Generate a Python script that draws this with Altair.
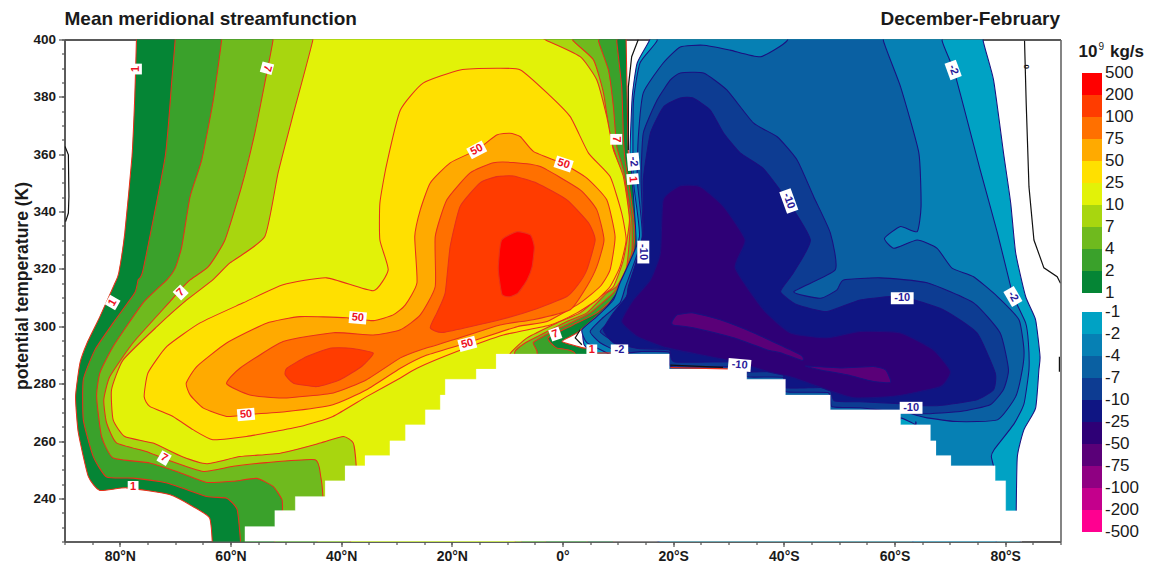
import altair as alt
import pandas as pd

# contour regions: (latitude, negative = north; potential temperature K)
P1 = [(-77,410),(-77,400),(-77.3,380.1),(-77.8,359.2),(-79.1,332.6),(-80.2,318.6),(-80.9,315),(-83.6,303.4),(-85.9,294.3),(-87.2,287.3),(-88,275.5),(-87.5,262.9),(-85.7,247.7),(-83.6,242.8),(-78.8,243.7),(-70.9,241.3),(-66.8,237.2),(-63.8,233.3),(-63.3,225),(-63.3,215),(6.8,215),(6.8,270),(6.8,290.9),(3.7,292.5),(-0.1,294.7),(2.6,297.7),(6.8,304.7),(12.2,316.2),(13.7,331.2),(12.8,351.1),(11.9,360.4),(11.7,378.9),(11.5,400),(11.5,410)]
P2 = [(-70,410),(-70,400),(-70.6,385.9),(-71.8,359.2),(-75.8,319.7),(-76.7,316.2),(-77.3,311.7),(-81.2,301.2),(-84.5,291.8),(-86.6,281.4),(-86.6,267.4),(-84.8,254.6),(-82.4,247.5),(-77.6,247.1),(-71.5,245.4),(-64.3,240.7),(-60.7,240.1),(-58.8,236.1),(-58.2,225),(-58.2,215),(2.3,215),(2.3,270),(2.3,290.4),(-1.1,292.5),(-2.6,296),(1.9,300.5),(6.2,304.7),(10.4,311.7),(11.9,313.8),(13.1,332.6),(11.9,351),(11.3,358),(11,366.1),(10.7,383.5),(9.8,399.6),(9.8,410)]
P3 = [(-61.6,410),(-61.6,400),(-63.1,378.9),(-65.2,358),(-67.3,345.2),(-68.8,327.8),(-70,320.3),(-71.5,316.2),(-75.8,308.2),(-81.2,293),(-83.6,283.8),(-84.2,275.5),(-83.3,261.6),(-81.2,254.1),(-74.6,252.4),(-69.1,249),(-64.3,245.6),(-59.5,246),(-55.3,247),(-52.3,244.2),(-50.7,239.6),(-50.6,235),(-50.6,215),(-4.6,215),(-4.6,284.8),(-4.6,291.2),(-5.3,294.3),(-3.5,296.5),(1.4,301.2),(5,304.7),(9.2,311.7),(10.4,315.2),(12.5,325.6),(12.5,337.1),(11,354.5),(9.8,362.7),(9.2,376.6),(8.3,389.4),(6.5,399.6),(6.5,410)]
P4 = [(-52.3,410),(-52.3,400),(-53.8,384.8),(-55.6,367.4),(-58,348.7),(-61,330.1),(-64,320.8),(-67.3,316.2),(-69.1,312.7),(-70.9,308.7),(-77.6,294.3),(-81.8,282.5),(-82.9,274.4),(-82.4,266.4),(-80.6,259.4),(-75.2,256.4),(-71.5,253.5),(-64.9,249.4),(-59.5,251.2),(-53.5,252.5),(-44.7,253.5),(-43.7,247.7),(-43.3,240.7),(-43.3,234),(-43.3,215),(-8.6,215),(-8.6,284.8),(-8.6,291.2),(-6.7,294.3),(-4,297),(0.8,301.7),(4.4,304.7),(8,311.7),(9.8,313.9),(11.6,320.8),(12.2,334.8),(11.3,348.7),(9.5,360.4),(8.6,366.1),(7.4,381.4),(5.6,392.9),(1.9,399.6),(-2,410)]
P5 = [(-45.1,410),(-45.1,400),(-48.6,374.4),(-51.4,353.5),(-53.8,331.3),(-60.1,322.1),(-63.2,316.2),(-67.9,309.2),(-73.3,299.9),(-79.4,288.3),(-81.5,277.9),(-81.2,267.4),(-79.1,261.6),(-74,259.3),(-68.8,254.6),(-64.3,252.1),(-58.3,254.6),(-51,255.8),(-43.8,259.3),(-39.6,261.6),(-37.8,259.3),(-37.3,251.8),(-37.3,243),(-37.3,215),(-9.5,215),(-9.5,284.8),(-9.5,290.4),(-6.4,296),(-1,301.2),(3.2,304.7),(6.8,310.4),(9.2,313.9),(11,323.2),(12.1,337.1),(11,352.2),(9.2,361.5),(8,373.1),(6.2,385.9),(3.2,394),(-2.8,399.6),(-10,405)]
P6 = [(-11.9,390),(-7.6,389.4),(-2.8,381.4),(1.4,373.1),(4.7,360.4),(8.6,352.2),(10.7,339.5),(11.5,330.1),(10.4,320.8),(8.6,313.9),(6.2,309.2),(2.6,304.7),(-2.2,300.5),(-10.7,297),(-19.1,291.2),(-26.3,285.4),(-29.3,282),(-35.4,275.5),(-41.5,268.6),(-47.4,265.1),(-57.1,261.6),(-63.2,260.5),(-66.8,264),(-70.4,268.6),(-74.6,272.1),(-75.6,275.5),(-74.9,283.8),(-71.5,293),(-65.5,301.2),(-57.7,308.2),(-50.5,314.5),(-42.6,316.9),(-34.2,312.4),(-31.5,319.7),(-33,330.1),(-33,343),(-31.8,356.3),(-29.3,375.4),(-25.2,384.8),(-18.5,389.4)]
P7 = [(-9.5,367.3),(-7.6,366.1),(-5.2,360.9),(0.2,356.6),(4.4,351.7),(8,344.1),(9.5,331.3),(8.6,319.7),(6.8,313.9),(3.2,308.2),(-2.8,301.7),(-8.2,299.9),(-17.3,294.2),(-24.5,290),(-29.3,285.4),(-35.4,277.9),(-41.5,272.7),(-49.8,270.3),(-57.1,269.2),(-60.7,268.6),(-64.9,271.5),(-67.3,276.1),(-68,280.2),(-66.1,286),(-60.7,294.2),(-53.5,301.1),(-47.4,303.4),(-39,303),(-34.2,302),(-30.6,304),(-28.4,307.5),(-26.3,315.2),(-26.7,331.3),(-25.7,340.6),(-23.9,350),(-20.3,357),(-15.5,361.5),(-11.9,366.7)]
P8 = [(-8.9,357.1),(-4,355.7),(3.2,347.6),(6.2,340.6),(7.5,330.1),(6.2,320.8),(4.4,313.9),(1.4,305.8),(-5.3,302.3),(-11.3,300.5),(-19.7,295.3),(-25.7,291.8),(-29.3,289),(-35.4,281.4),(-41.4,276.8),(-50.5,275),(-56.5,276.1),(-60.7,280),(-58.3,285.4),(-50.5,294.7),(-41.4,297.8),(-34.2,297),(-29.3,298.8),(-25.7,304),(-23,313.9),(-23,331.3),(-20.9,344.1),(-16.7,353.5),(-12.5,357)]
P9A = [(-8.9,352.4),(-4.6,349.9),(0.8,344.1),(4.7,336.1),(5.9,330.1),(4.4,319.7),(2.8,314.5),(0.8,310.4),(-5.2,305.8),(-11.3,302.3),(-21.5,297.9),(-23.9,299.5),(-22.7,304.7),(-21.2,311.7),(-20.3,327.8),(-18.5,341.8),(-14.9,350),(-11.9,352.2)]
P9B = [(-49.8,285.4),(-46.2,289.5),(-42,292.4),(-38.4,292.4),(-34.2,290.7),(-36.3,286),(-40.2,281.4),(-44.4,279),(-48.6,280.2),(-50.1,283.1)]
P10 = [(-8.2,333),(-5.8,331.9),(-5.1,327.7),(-5.5,320.7),(-6.4,316.2),(-8,311.7),(-9.5,310.3),(-10.9,311),(-11.4,316.2),(-11.6,320.7),(-11,330.1)]

N1 = [(76,410),(76,399.8),(77.9,385.9),(79.7,360.5),(81,343),(81.9,325.6),(83.7,310.4),(85.5,302.3),(86.3,289.5),(86.1,284.9),(85.5,271.5),(83.4,264),(82.2,254.6),(82,235.7),(82,228),(82,215),(30,215),(5.9,240),(5.9,286.6),(5,291.1),(3.9,293.6),(3.7,297),(5,300.5),(8.3,307.5),(11.3,316.2),(13.3,328.4),(12.6,351),(12.2,360.5),(12.6,380),(13.5,391.8),(15.9,400.5),(16.5,410)]
N2 = [(68.6,410),(68.6,399.6),(70.7,389.4),(72.5,376.6),(75.5,354.5),(78.6,332.6),(80.7,316.2),(81.5,310.3),(83.7,301.2),(84.2,294.3),(84.3,284.9),(83.4,273),(81.6,266),(78,257),(77.5,254.6),(77.9,251),(77.9,243),(77.9,215),(63.8,215),(63.8,264.6),(63.8,265.7),(61.1,268.1),(60.1,265.7),(40,230),(10.4,240),(10.4,284.8),(8.3,290.4),(4.4,294.3),(3.5,298.8),(6.2,303.4),(9.2,309.2),(10.4,315.2),(13.9,331.2),(12.8,351),(12.8,377.9),(14,391.8),(17.1,399.6),(18,410)]
N3 = [(58,410),(58,399.6),(61.1,383.5),(64.4,360.5),(64.8,341.8),(64.1,333),(61.1,334.8),(58.2,330.7),(59.9,327.2),(64.1,330.1),(67.7,327.2),(70.4,320.3),(74.3,317.3),(78.6,310.4),(82.5,302.3),(83.4,291.8),(83.1,284.9),(81.9,275.5),(78.6,267.4),(71.3,266.8),(65.9,268.1),(64.3,268.8),(62,270.2),(60.3,270.2),(60,262),(40,240),(10.7,262),(10.7,284.8),(10.7,290.1),(6.8,294.3),(5,298.2),(7.3,303),(10.4,308.2),(11.4,313.9),(14.4,331.2),(13.5,351),(13.7,366),(14.6,381.4),(18.2,391.8),(21.3,397.4),(25.5,398),(30.3,396.3),(35.8,394),(40.6,399.6),(42,410)]
N4 = [(21.3,388.3),(25.5,388.3),(29.7,382.4),(34.5,370.9),(38.8,366.1),(42.4,358),(45.4,345.2),(48.4,332.6),(49.3,319.7),(41.8,312.1),(46.6,309.8),(49.6,312.7),(50.8,316.2),(57.5,316.9),(65.9,315.2),(74.3,308.2),(79.1,297.7),(80.6,284.9),(79.7,278),(77.3,272.7),(71.9,270.3),(65.2,269.5),(61.1,269.9),(53.8,271.6),(48.7,272),(48,276.9),(40.4,277.2),(39.9,282.2),(33.4,282.4),(33,285.9),(19.8,285.9),(19.3,291),(14,291.2),(11.3,290.7),(9.5,294.3),(6.8,298.2),(9.2,303),(11.3,309.2),(12.2,313.9),(14.5,331.2),(14.2,351),(14.6,367.4),(17.1,378.9),(19.5,385.9)]
N5 = [(21.3,379.6),(23.6,379.6),(26.7,375.4),(29.1,367.4),(32.1,360.5),(36.3,355),(40.6,344.1),(44.8,330.1),(41.7,318.6),(39.4,312.1),(42.4,307.5),(47.8,305.2),(53.8,309.2),(61.1,310.4),(68.8,305.8),(74.9,297.7),(78.2,283.8),(77.9,277.9),(74.9,274.4),(69.5,272.7),(65.2,272.3),(61.1,273),(53.8,273.7),(49.1,274.1),(48,278.6),(40.4,278.6),(39.7,284.1),(33.4,284.2),(33,287.6),(20.3,287.6),(19.3,291.8),(14,292.2),(12.2,292.9),(9.2,294.3),(7.4,298.8),(9.2,304.7),(11.6,310.4),(11.9,313.9),(14.6,331.3),(14.6,351),(15.9,367.4),(18.3,376.6)]
N6 = [(21.3,349),(24.9,348.7),(29.1,341.7),(33,330.1),(31.2,320.4),(36.3,305.8),(41.2,297.7),(47.8,296),(53.8,298.2),(61.1,297.7),(67,291.8),(70.1,284.3),(68.3,279),(59.9,275.6),(52.6,275.1),(47.8,277.9),(41.8,282.1),(37,284.3),(30.9,287.8),(24.9,290.1),(18.9,292.5),(13.5,296.5),(10.7,301.7),(12.8,309.2),(15.9,316.2),(17.7,325.6),(18.2,344.1)]
N7A = [(19.8,301.7),(20.7,304),(23.6,304.7),(28.5,302.3),(34.5,297.8),(43,290.1),(43.3,288.1),(39.4,290.8),(37,291.8),(30.9,296),(23.6,299.5),(20,300.5)]
N7B = [(43.9,286.2),(50.2,285.5),(56.2,286),(58.4,284.8),(59.3,280.5),(56.2,280.8),(51.4,283.1),(46.6,284.8)]

GROUND = [(-57.4,225),(-57.4,230.2),(-52,230.2),(-52,235.8),(-48.3,235.8),(-48.3,240.7),(-42.9,240.7),(-42.9,246.2),(-39.3,246.2),(-39.3,251.4),(-35.7,251.4),(-35.7,255),(-31.2,255),(-31.2,260.1),(-28.4,260.1),(-28.4,265.7),(-24.8,265.7),(-24.8,270.9),(-22.1,270.9),(-22.1,276.1),(-21.2,276.1),(-21.2,281.6),(-15.6,281.6),(-15.6,285.1),(-12,285.1),(-12,290.4),(19.3,290.4),(19.3,285.1),(33.3,285.1),(33.3,281.6),(40.3,281.6),(40.3,276.1),(48.4,276.1),(48.4,270.9),(61.1,270.9),(61.1,265.7),(66.5,265.7),(66.5,260.1),(67.5,260.1),(67.5,255),(70.2,255),(70.2,251.4),(78.2,251.4),(78.2,246.2),(80.1,246.2),(80.1,235.7),(83,235.7),(83,225)]

ZERO_LINES = [
    [(-89.9,362.7),(-89.3,359.8),(-89.2,345.3),(-89.3,339.5),(-89.8,336.5)],
    [(83.5,399.6),(83.8,377.9),(84.3,348.7),(85.2,330.1),(87,320.4),(89.4,317.3),(90,315)],
    [(13.7,400),(12.5,394),(11.9,383.5),(11.9,361.5)],
    [(3.2,298.8),(2.3,296),(3.5,293.6)],
    [(89.8,289.4),(89.8,284.2)],
    [(19.5,286.5),(29,285.7)],
]
RED_LINES = [[(19.5,285.6),(30,285.2)], [(5,290.7),(12,290.8)]]

POS_COLORS = ["#058535","#3aa12b","#6fba1e","#a8d60f","#e2f208","#ffe000","#ffaa00","#ff7000","#ff3c00","#ff3c00","#ff0000"]
POS_REGIONS = [P1,P2,P3,P4,P5,P6,P7,P8,P9A,P9B,P10]
NEG_COLORS = ["#00a2c4","#0680b4","#0a60a2","#0d3c92","#0f1583","#2e0076","#5a0078","#5a0078"]
NEG_REGIONS = [N1,N2,N3,N4,N5,N6,N7A,N7B]

LABEL_TEXT = ["1","7","1","7","50","50","7","1","50","50","7","-2","1","-10","50","7","1","-2","-10","-2","-10","-10","-2","-10","0"]
LABEL_LAT = [-77.1,-53.4,-81.3,-69,-37,-57.2,-72,-77.6,-15.5,0.2,9.7,12.8,12.7,14.6,-17.2,-1.3,5.3,10.3,32,70.6,40.9,61.4,81.4,63,83.7]
LABEL_THETA = [389.7,390,308.3,311.8,303,269.3,254.1,244,361.5,356.6,365.2,357.4,351.3,325.9,293.9,297.3,291.6,291.6,286.5,389.4,343.7,309.8,310.4,271.6,390.5]
LABEL_ANGLE = [270,105,300,315,5,355,30,0,332,18,90,85,85,90,345,340,0,0,5,70,70,0,60,0,90]

LEGEND_POS = ["500","200","100","75","50","25","10","7","4","2","1"]
LEGEND_NEG = ["-1","-2","-4","-7","-10","-25","-50","-75","-100","-200","-500"]
LEGEND_POS_COLORS = ["#ff0000","#ff3c00","#ff7000","#ffaa00","#ffe000","#e2f208","#a8d60f","#6fba1e","#3aa12b","#058535"]
LEGEND_NEG_COLORS = ["#00a2c4","#0680b4","#0a60a2","#0d3c92","#0f1583","#2e0076","#5a0078","#8f0082","#c4008c","#ff0090"]

FONT = "Liberation Sans"
W, H = 996, 502
XS = alt.Scale(domain=[-90, 90], nice=False, zero=False)
YS = alt.Scale(domain=[225, 400], nice=False, zero=False)
NOAX_X = alt.X("lat:Q", scale=XS, axis=None)
NOAX_Y = alt.Y("theta:Q", scale=YS, axis=None)


def frame(points):
    return pd.DataFrame({"lat": [p[0] for p in points], "theta": [p[1] for p in points], "seq": range(len(points))})


def region(points, color, stroke):
    return alt.Chart(frame(points)).mark_line(
        fill=color, filled=False, stroke=stroke, strokeWidth=1.05,
        interpolate="cardinal-closed", tension=0.5, clip=True,
    ).encode(x=NOAX_X, y=NOAX_Y, order="seq:Q")


def contour(points, color, width):
    return alt.Chart(frame(points)).mark_line(
        stroke=color, strokeWidth=width, clip=True, interpolate="linear",
    ).encode(x=NOAX_X, y=NOAX_Y, order="seq:Q")


layers = []
for pts, col in zip(POS_REGIONS, POS_COLORS):
    layers.append(region(pts, col, "#e8301a"))
for pts, col in zip(NEG_REGIONS, NEG_COLORS):
    layers.append(region(pts, col, "#1b1080"))

layers.append(alt.Chart(frame(GROUND)).mark_line(
    fill="white", filled=False, stroke="white", strokeWidth=0.2, interpolate="linear-closed", clip=True,
).encode(x=NOAX_X, y=NOAX_Y, order="seq:Q"))

for pts in RED_LINES:
    layers.append(contour(pts, "#e8301a", 1.2))
for pts in ZERO_LINES:
    layers.append(contour(pts, "#111111", 1.2))

# contour labels
half = {1: 0.9, 2: 1.45, 3: 1.9}
lab = pd.DataFrame({"lat": LABEL_LAT, "theta": LABEL_THETA, "txt": LABEL_TEXT, "ang": LABEL_ANGLE})
lab["shape"] = [f"M{-half[len(t)]},-1H{half[len(t)]}V1H{-half[len(t)]}Z" for t in LABEL_TEXT]
lab["col"] = ["#111111" if t == "0" else ("#2a1a9a" if t.startswith("-") else "#ee1122") for t in LABEL_TEXT]
lab["fs"] = [8 if t == "0" else 11 for t in LABEL_TEXT]
layers.append(alt.Chart(lab[lab.txt != "0"]).mark_point(filled=True, fill="white", stroke=None, opacity=1, size=144).encode(
    x=NOAX_X, y=NOAX_Y,
    shape=alt.Shape("shape:N", scale=None), angle=alt.Angle("ang:Q", scale=None)))
layers.append(alt.Chart(lab).mark_text(font=FONT, fontWeight="bold", baseline="middle", align="center").encode(
    x=NOAX_X, y=NOAX_Y, text="txt:N",
    angle=alt.Angle("ang:Q", scale=None), color=alt.Color("col:N", scale=None),
    size=alt.Size("fs:Q", scale=None)))

# axes
dummy = pd.DataFrame({"lat": [0], "theta": [300]})
AX = dict(domainColor="#555555", tickColor="#555555", domainWidth=1.6, tickWidth=1.2, grid=False,
          labelFont=FONT, labelColor="#1a1a1a", titleFont=FONT, titleColor="#1a1a1a")
minor = alt.Chart(dummy).mark_point(opacity=0).encode(
    x=alt.X("lat:Q", scale=XS, axis=alt.Axis(orient="bottom", values=list(range(-90, 91, 5)), labels=False, title=None, tickSize=3, **AX)),
    y=alt.Y("theta:Q", scale=YS, axis=alt.Axis(orient="left", values=list(range(225, 401, 5)), labels=False, title=None, tickSize=3, **AX)))
major = alt.Chart(dummy).mark_point(opacity=0).encode(
    x=alt.X("lat:Q", scale=XS, axis=alt.Axis(
        orient="bottom", values=list(range(-80, 81, 20)), title=None, tickSize=5, labelFontSize=14, labelFontWeight="bold", labelPadding=3,
        labelExpr="datum.value < 0 ? abs(datum.value) + '°N' : datum.value > 0 ? datum.value + '°S' : '0°'", **AX)),
    y=alt.Y("theta:Q", scale=YS, axis=alt.Axis(
        orient="left", values=list(range(240, 401, 20)), title="potential temperature (K)", tickSize=6, labelFontSize=13.5, labelFontWeight="bold",
        labelPadding=3, titleFontSize=17.5, titleFontWeight="bold", titleX=-33, titleY=246, format="d", **AX)))
top_right = alt.Chart(dummy).mark_point(opacity=0).encode(
    x=alt.X("lat:Q", scale=XS, axis=alt.Axis(orient="top", labels=False, ticks=False, title=None, grid=False, domainColor="#222222", domainWidth=1.6)),
    y=alt.Y("theta:Q", scale=YS, axis=alt.Axis(orient="right", labels=False, ticks=False, title=None, grid=False, domainColor="#666666", domainWidth=1.6)))
layers += [minor, major, top_right]

# colour key
GAP = 0.864
leg_rows = []
for i, c in enumerate(LEGEND_POS_COLORS):
    leg_rows.append({"a": i, "b": i + 1, "c": c})
for i, c in enumerate(LEGEND_NEG_COLORS):
    leg_rows.append({"a": 10 + GAP + i, "b": 10 + GAP + i + 1, "c": c})
leg = pd.DataFrame(leg_rows)
LXS = alt.Scale(domain=[0, 1], range=[1017.5, 1037.5], nice=False, zero=False)
LYS = alt.Scale(domain=[0, 20 + GAP], range=[33.5, 492.5], nice=False, zero=False)
layers.append(alt.Chart(leg.assign(x0=0, x1=1)).mark_rect(strokeWidth=0).encode(
    x=alt.X("x0:Q", scale=LXS, axis=None), x2="x1:Q",
    y=alt.Y("a:Q", scale=LYS, axis=None), y2="b:Q",
    color=alt.Color("c:N", scale=None)))
txt = pd.DataFrame({"y": [float(i) for i in range(11)] + [10 + GAP + i for i in range(11)],
                    "t": LEGEND_POS + LEGEND_NEG, "x0": [1] * 22})
layers.append(alt.Chart(txt).mark_text(font=FONT, fontSize=17, align="left", baseline="middle", dx=3, color="#1a1a1a").encode(
    x=alt.X("x0:Q", scale=LXS, axis=None), y=alt.Y("y:Q", scale=LYS, axis=None), text="t:N"))


def note(text, px, py, size, align="left", weight="bold"):
    return alt.Chart(dummy).mark_text(font=FONT, fontSize=size, fontWeight=weight, align=align, baseline="alphabetic", color="#1a1a1a").encode(
        x=alt.value(px), y=alt.value(py), text=alt.value(text))


layers += [
    note("Mean meridional streamfunction", 0, -14.5, 19),
    note("December-February", 995.5, -14.5, 19, "right"),
    note("10", 1014, 17.5, 17),
    note("9", 1034, 10.5, 10, weight="normal"),
    note("kg/s", 1045.5, 17.5, 17),
]

chart = alt.layer(*layers).resolve_scale(x="independent", y="independent").properties(
    width=W, height=H, autosize="none",
    padding={"left": 56.5, "top": 31.5, "right": 84.5, "bottom": 23.5},
).configure_view(stroke=None)

chart.save("out.html", embed_options={"renderer": "svg", "actions": False})
